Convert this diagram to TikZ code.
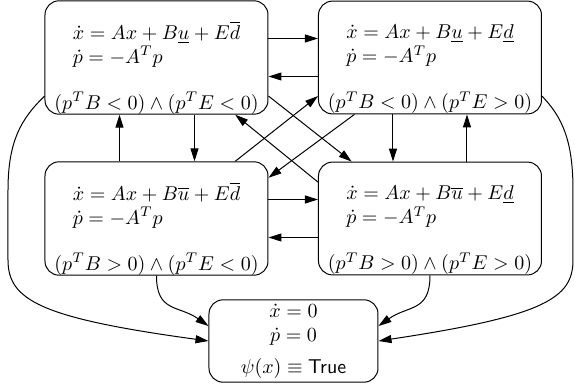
\documentclass[tikz,border=0pt]{standalone}
\usetikzlibrary{arrows.meta}
\begin{document}
\begin{tikzpicture}[x=0.5pt,y=-0.5pt,line width=0.5pt,>={Triangle[length=6.5pt,width=4pt]},
  mode/.style={draw,rounded corners=7pt,align=center,minimum width=111.5pt,minimum height=55.5pt,inner sep=0pt},
  sink/.style={draw,rounded corners=7pt,align=center,minimum width=84.5pt,minimum height=41pt,inner sep=2pt}]
\useasboundingbox (0,0) rectangle (575,390);

\node[mode](M1) at (156.5,57.5){\rule{0pt}{25pt}$\begin{array}{l}\dot{x}=Ax+B\underline{u}+E\overline{d}\\ \dot{p}=-A^Tp\end{array}$\\[10pt]$(p^TB<0)\wedge(p^TE<0)$};
\node[mode](M2) at (430,57.5){\rule{0pt}{25pt}$\begin{array}{l}\dot{x}=Ax+B\underline{u}+E\underline{d}\\ \dot{p}=-A^Tp\end{array}$\\[10pt]$(p^TB<0)\wedge(p^TE>0)$};
\node[mode](M3) at (156.5,218.5){\rule{0pt}{25pt}$\begin{array}{l}\dot{x}=Ax+B\overline{u}+E\overline{d}\\ \dot{p}=-A^Tp\end{array}$\\[10pt]$(p^TB>0)\wedge(p^TE<0)$};
\node[mode](M4) at (430,218.5){\rule{0pt}{25pt}$\begin{array}{l}\dot{x}=Ax+B\overline{u}+E\underline{d}\\ \dot{p}=-A^Tp\end{array}$\\[10pt]$(p^TB>0)\wedge(p^TE>0)$};

\node[sink](F) at (293.5,341){$\dot{x}=0$\\$\dot{p}=0$\\[4pt]$\psi(x)\equiv\textsf{True}$};

% top row
\draw[->]([yshift=9.5pt]M1.east)--([yshift=9.5pt]M2.west);
\draw[->]([yshift=-9.5pt]M2.west)--([yshift=-9.5pt]M1.east);
% bottom row
\draw[->]([yshift=9.5pt]M3.east)--([yshift=9.5pt]M4.west);
\draw[->]([yshift=-9.5pt]M4.west)--([yshift=-9.5pt]M3.east);
% columns
\draw[->]([xshift=-18.5pt]M3.north)--([xshift=-18.5pt]M1.south);
\draw[->]([xshift=19pt]M1.south)--([xshift=19pt]M3.north);
\draw[->]([xshift=-18.5pt]M2.south)--([xshift=-18.5pt]M4.north);
\draw[->]([xshift=18.5pt]M4.north)--([xshift=18.5pt]M2.south);
% diagonals
\draw[->](M1.-19)--(M4.144);
\draw[->](M4.162)--(M1.-36);
\draw[->](M2.-143.5)--(M3.20);
\draw[->](M3.36)--(M2.-161.5);

% into the final mode
\draw[->](M3.south) to[out=-90,in=145,looseness=1.3] (F.170);
\draw[->](M4.south) to[out=-90,in=35,looseness=1.3] (F.10);
\draw[->](M1.-161) .. controls (22,118) and (8,140) .. (8,190) -- (8,260) .. controls (8,300) and (40,318) .. (F.west);
\draw[->](M2.-19) .. controls (562,117) and (573,140) .. (573,190) -- (573,260) .. controls (573,298) and (545,316) .. (F.east);
\end{tikzpicture}
\end{document}
